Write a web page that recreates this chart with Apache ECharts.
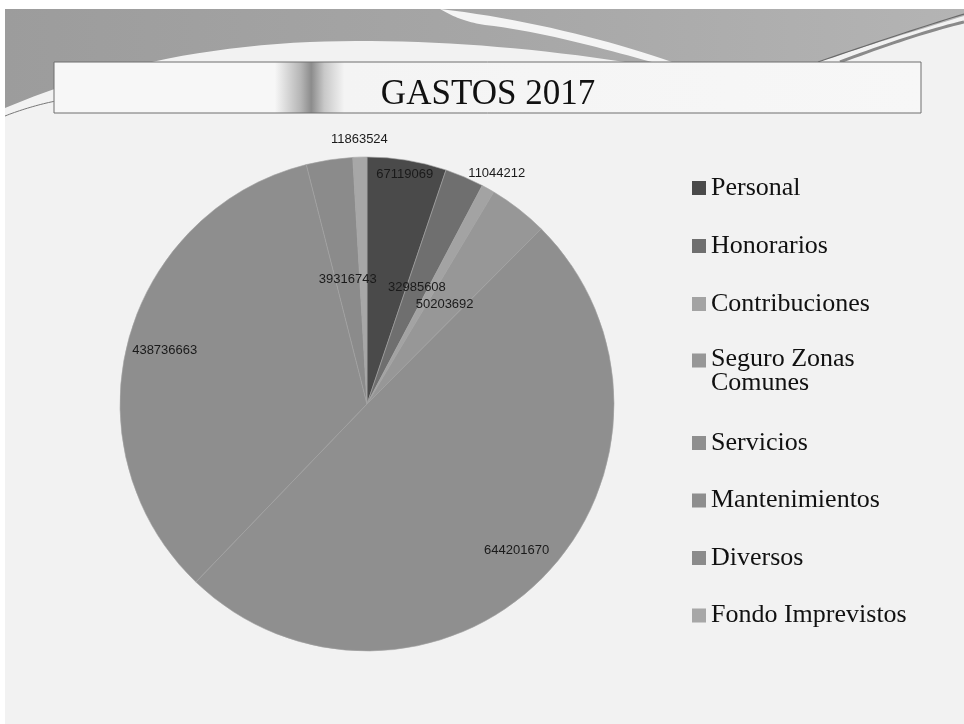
<!DOCTYPE html>
<html>
<head>
<meta charset="utf-8">
<title>GASTOS 2017</title>
<script src="https://cdn.jsdelivr.net/npm/echarts@6/dist/echarts.min.js"></script>
<style>
  html, body { margin: 0; padding: 0; background: #fff; }
  #chart { width: 964px; height: 724px; }
</style>
</head>
<body>
<div id="chart"></div>
<script>
// datos
const categories = ['Personal', 'Honorarios', 'Contribuciones', 'Seguro Zonas Comunes',
  'Servicios', 'Mantenimientos', 'Diversos', 'Fondo Imprevistos'];
const values = [67119069, 32985608, 11044212, 50203692, 644201670, 438736663, 39316743, 11863524];
const colors = ['#4a4a4a', '#6f6f6f', '#a3a3a3', '#979797', '#8f8f8f', '#8e8e8e', '#8b8b8b', '#a7a7a7'];
// donde va cada etiqueta: mid = mitad del radio, edge = cerca del borde, outer, out = afuera
const labelRing = ['edge', 'mid', 'out', 'mid', 'outer', 'outer', 'mid', 'out'];

const R = 247;
const CENTER = [367, 404];

const labelText = {
  fontFamily: 'Liberation Sans',
  fontSize: 13,
  color: '#1a1a1a'
};

// convierte "M x,y L x,y C ... Z" en puntos para polygon/polyline (solo decoracion del fondo)
function pathPoints(d) {
  const nums = d.match(/[MLCZ]|-?\d+(\.\d+)?/g);
  const pts = [];
  let cmd = null, i = 0, cur = [0, 0];
  while (i < nums.length) {
    const t = nums[i];
    if (/[MLCZ]/.test(t)) { cmd = t; i++; if (cmd === 'Z') continue; }
    if (cmd === 'M' || cmd === 'L') {
      cur = [+nums[i], +nums[i + 1]]; pts.push(cur); i += 2;
    } else if (cmd === 'C') {
      const p1 = [+nums[i], +nums[i + 1]], p2 = [+nums[i + 2], +nums[i + 3]], p3 = [+nums[i + 4], +nums[i + 5]];
      for (let k = 1; k <= 20; k++) {
        const s = k / 20, u = 1 - s;
        pts.push([
          u * u * u * cur[0] + 3 * u * u * s * p1[0] + 3 * u * s * s * p2[0] + s * s * s * p3[0],
          u * u * u * cur[1] + 3 * u * u * s * p1[1] + 3 * u * s * s * p2[1] + s * s * s * p3[1]
        ]);
      }
      cur = p3; i += 6;
    } else i++;
  }
  return pts;
}

function pieData(ring, visible) {
  return categories.map((name, i) => ({
    name: name,
    value: values[i],
    itemStyle: visible ? { color: colors[i] } : { color: 'rgba(0,0,0,0)', borderWidth: 0 },
    label: { show: labelRing[i] === ring }
  }));
}

function ringSeries(ring, inner, outer) {
  return {
    type: 'pie',
    center: CENTER,
    radius: [inner, outer],
    startAngle: 90,
    silent: true,
    legendHoverLink: false,
    emphasis: { disabled: true },
    label: Object.assign({ position: 'inside', formatter: p => String(p.value) }, labelText),
    labelLine: { show: false },
    data: pieData(ring, false),
    z: 3
  };
}

const chart = echarts.init(document.getElementById('chart'), null, { renderer: 'canvas' });

const legendText = {
  fontFamily: 'Liberation Serif',
  fontSize: 26,
  color: '#111',
  rich: {
    // primera linea alineada con el cuadro, segunda debajo
    l1: { fontFamily: 'Liberation Serif', fontSize: 26, color: '#111', lineHeight: 46, verticalAlign: 'bottom' },
    l2: { fontFamily: 'Liberation Serif', fontSize: 26, color: '#111', lineHeight: 23 }
  }
};

function legendBlock(top, names, gap) {
  return {
    orient: 'vertical',
    left: 692,
    top: top,
    padding: 0,
    itemWidth: 14,
    itemHeight: 14,
    itemGap: gap,
    icon: 'rect',
    itemStyle: { borderWidth: 0 },
    textStyle: legendText,
    formatter: n => n === 'Seguro Zonas Comunes' ? '{l1|Seguro Zonas}\n{l2|Comunes}' : n,
    data: names.map(n => ({ name: n, itemStyle: { color: colors[categories.indexOf(n)], borderWidth: 0 } }))
  };
}

chart.setOption({
  backgroundColor: '#ffffff',
  animation: false,
  title: {
    text: 'GASTOS 2017',
    left: 488,
    top: 75,
    textAlign: 'center',
    padding: 0,
    textStyle: {
      fontFamily: 'Liberation Serif',
      fontSize: 35,
      fontWeight: 'normal',
      lineHeight: 40,
      color: '#111'
    }
  },
  graphic: [
    { type: 'rect', z: -10, shape: { x: 5, y: 9, width: 959, height: 715 }, style: { fill: '#f2f2f2' } },
    {
      type: 'polygon', z: -9,
      shape: { points: pathPoints('M5,9 L964,9 L964,16 C925,28 865,46 818,62 L625,62 C520,46 410,38 310,42 C200,47 100,68 5,108 Z') },
      style: {
        fill: {
          type: 'linear', x: 0, y: 0, x2: 1, y2: 0,
          colorStops: [{ offset: 0, color: '#9c9c9c' }, { offset: 0.5, color: '#a6a6a6' }, { offset: 1, color: '#b4b4b4' }]
        }
      }
    },
    {
      type: 'polygon', z: -8,
      shape: { points: pathPoints('M440,9 C520,18 610,40 672,62 L652,62 C600,48 545,32 485,25 C465,22 452,16 440,9 Z') },
      style: { fill: '#f4f4f4' }
    },
    {
      type: 'polyline', z: -8,
      shape: { points: pathPoints('M818,62 C870,44 925,26 964,14') },
      style: { stroke: '#6a6a6a', lineWidth: 1.2 }
    },
    {
      type: 'polyline', z: -8,
      shape: { points: pathPoints('M840,62 C885,45 930,30 964,22') },
      style: { stroke: '#8a8a8a', lineWidth: 3 }
    },
    {
      type: 'polyline', z: -8,
      shape: { points: pathPoints('M5,116 C20,110 40,104 56,101') },
      style: { stroke: '#777', lineWidth: 1 }
    },
    {
      type: 'rect', z: -7,
      shape: { x: 54, y: 62, width: 867, height: 51 },
      style: {
        stroke: '#6e6e6e',
        lineWidth: 1,
        fill: {
          type: 'linear', x: 0, y: 0, x2: 1, y2: 0,
          colorStops: [
            { offset: 0, color: '#f7f7f7' },
            { offset: 0.255, color: '#f7f7f7' },
            { offset: 0.285, color: '#b5b5b5' },
            { offset: 0.297, color: '#8c8c8c' },
            { offset: 0.312, color: '#c8c8c8' },
            { offset: 0.335, color: '#f4f4f4' },
            { offset: 1, color: '#f7f7f7' }
          ]
        }
      }
    }
  ],
  legend: [
    legendBlock(175, categories.slice(0, 3), 32),
    legendBlock(346, categories.slice(3, 4), 32),
    legendBlock(430, categories.slice(4), 31.5)
  ],
  series: [
    {
      type: 'pie',
      center: CENTER,
      radius: [0, R],
      startAngle: 90,
      itemStyle: { borderColor: '#a2a2a2', borderWidth: 0.6 },
      label: Object.assign({ position: 'inside', formatter: p => String(p.value) }, labelText),
      labelLine: { show: false },
      emphasis: { scale: false },
      data: pieData('mid', true),
      z: 2
    },
    ringSeries('edge', R * 0.86, R),
    ringSeries('outer', R * 0.67, R),
    ringSeries('out', R * 1.0, R * 1.12)
  ]
});
</script>
</body>
</html>
